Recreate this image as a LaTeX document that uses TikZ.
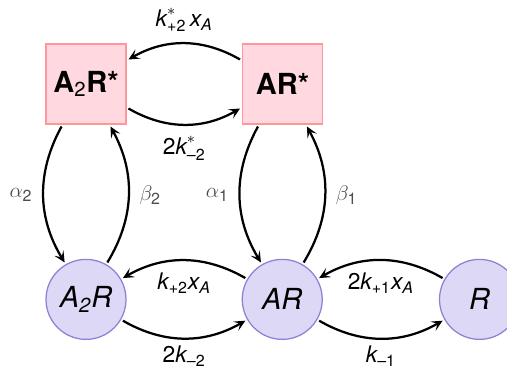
\documentclass[tikz,border=0pt]{standalone}
\usepackage{amsmath}
\usepackage{fontspec}
\setmainfont{TeX Gyre Heros}
\usetikzlibrary{arrows.meta,positioning}
\definecolor{boxpink}{RGB}{255,217,223}
\definecolor{boxred}{RGB}{255,150,155}
\definecolor{circfill}{RGB}{220,216,245}
\definecolor{circline}{RGB}{140,130,212}

\begin{document}
\begin{tikzpicture}[x=1mm, y=1mm, >={Stealth[length=2.2mm, width=2.1mm, inset=1mm]},
  act/.style={draw=boxred, fill=boxpink, line width=0.3mm, minimum size=16mm, inner sep=0pt,
    font=\fontsize{16.5}{18}\selectfont\bfseries},
  rest/.style={circle, draw=circline, fill=circfill, line width=0.25mm, minimum size=16mm, inner sep=0pt,
    font=\fontsize{16.5}{18}\selectfont\itshape},
  rate/.style={font=\fontsize{13}{15}\selectfont, inner sep=2.2mm},
  greek/.style={rate, text=black!70, inner sep=2mm},
  trans/.style={->, line width=0.45mm, bend right=30, shorten <=0.4mm, shorten >=0.4mm}]
\useasboundingbox (0,0) rectangle (101.4,-74.2);
% states
\node[act] (a2rs) at (17.2,-16.8) {A\textsubscript{\normalfont 2}R*};
\node[act,right=23mm of a2rs] (ars) {AR*};
\node[rest,below=26.8mm of a2rs] (a2r) {A\textsubscript{2}R};
\node[rest,right=23mm of a2r] (ar) {AR};
\node[rest,right=23.2mm of ar] (r) {R};
% transitions
\draw[trans] (ars) to node[above,rate]{$\textit{k}^{*}_{\text{+2}}\,\textit{x}_{\textit{A}}$} (a2rs);
\draw[trans] (a2rs) to node[below,rate]{$\text{2}\textit{k}^{*}_{\text{--2}}$} (ars);
\draw[trans] (a2rs) to node[left,greek]{$\alpha_{\text{2}}$} (a2r);
\draw[trans] (a2r) to node[right,greek]{$\beta_{\text{2}}$} (a2rs);
\draw[trans] (ars) to node[left,greek]{$\alpha_{\text{1}}$} (ar);
\draw[trans] (ar) to node[right,greek]{$\beta_{\text{1}}$} (ars);
\draw[trans] (ar) to node[below,rate]{$\textit{k}_{\text{+2}}\textit{x}_{\textit{A}}$} (a2r);
\draw[trans] (a2r) to node[below,rate,inner sep=1.3mm]{$\text{2}\textit{k}_{\text{--2}}$} (ar);
\draw[trans] (r) to node[below,rate]{$\text{2}\textit{k}_{\text{+1}}\textit{x}_{\textit{A}}$} (ar);
\draw[trans] (ar) to node[below,rate,inner sep=1.3mm]{$\textit{k}_{\text{--1}}$} (r);
\end{tikzpicture}
\end{document}
